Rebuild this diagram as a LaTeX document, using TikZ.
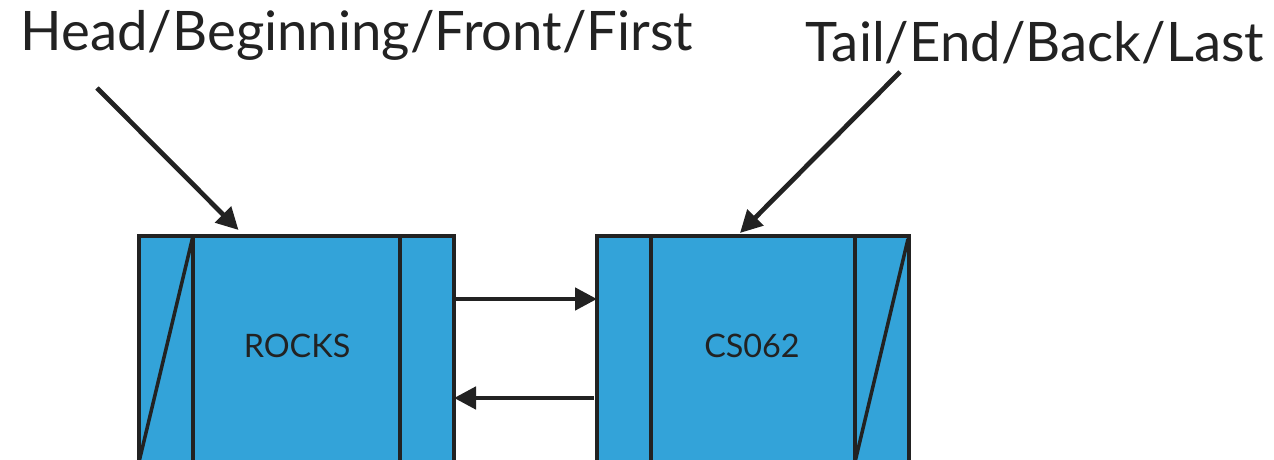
\documentclass[tikz,border=0pt]{standalone}
\usepackage{fontspec}
\setmainfont{Lato}
\usepackage{tikz}
\usetikzlibrary{arrows.meta,positioning}
\definecolor{ink}{HTML}{222222}
\definecolor{cellblue}{HTML}{33A3D9}
\tikzset{
  cell/.style={draw=ink, fill=cellblue, line width=1pt, inner sep=0pt, outer sep=0pt, minimum height=2.26cm},
  slash/.style={draw=ink, line width=1pt},
  link/.style={draw=ink, line width=1.35pt, -{Triangle[length=0.22cm, width=0.22cm]}},
  lbl/.style={text=ink, font=\fontsize{15.5}{18}\selectfont},
  clbl/.style={text=ink, font=\fontsize{9.2}{11}\selectfont}
}
\begin{document}
\begin{tikzpicture}
  \clip (0,0) rectangle (12.74,4.59);

  % first node
  \node[cell, minimum width=0.54cm, anchor=north west] (rocksprev) at (1.39,2.23) {};
  \node[cell, minimum width=2.07cm, anchor=north west] (rocks) at (rocksprev.north east) {};
  \node[cell, minimum width=0.54cm, anchor=north west] (rocksnext) at (rocks.north east) {};
  \draw[slash] (rocksprev.south west) -- (rocksprev.north east);
  \node[clbl] (rockstext) at (2.97,1.13) {ROCKS};

  % second node
  \node[cell, minimum width=0.54cm, anchor=north west] (csprev) at (5.97,2.23) {};
  \node[cell, minimum width=2.04cm, anchor=north west] (cs) at (csprev.north east) {};
  \node[cell, minimum width=0.54cm, anchor=north west] (csnext) at (cs.north east) {};
  \draw[slash] (csnext.south west) -- ([xshift=-0.01cm, yshift=-0.03cm]csnext.north east);
  \node[clbl] (cstext) at (7.52,1.13) {CS062};

  % next / prev links
  \draw[link] ([yshift=0.50cm]rocksnext.east) -- ([yshift=0.50cm]csprev.west);
  \draw[link] ([xshift=-0.03cm, yshift=-0.49cm]csprev.west) -- ([yshift=-0.49cm]rocksnext.east);

  % head and tail
  \node[lbl] (head) at (3.57,4.24) {Head/Beginning/Front/First};
  \node[lbl] (tail) at (10.35,4.16) {Tail/End/Back/Last};
  \coordinate (headfrom) at (0.97,3.71);
  \coordinate (tailfrom) at (9.00,3.87);
  \draw[link] (headfrom) -- ([xshift=-0.58cm, yshift=0.06cm]rocks.north);
  \draw[link] (tailfrom) -- ([xshift=-0.13cm, yshift=0.03cm]cs.north);
\end{tikzpicture}
\end{document}
